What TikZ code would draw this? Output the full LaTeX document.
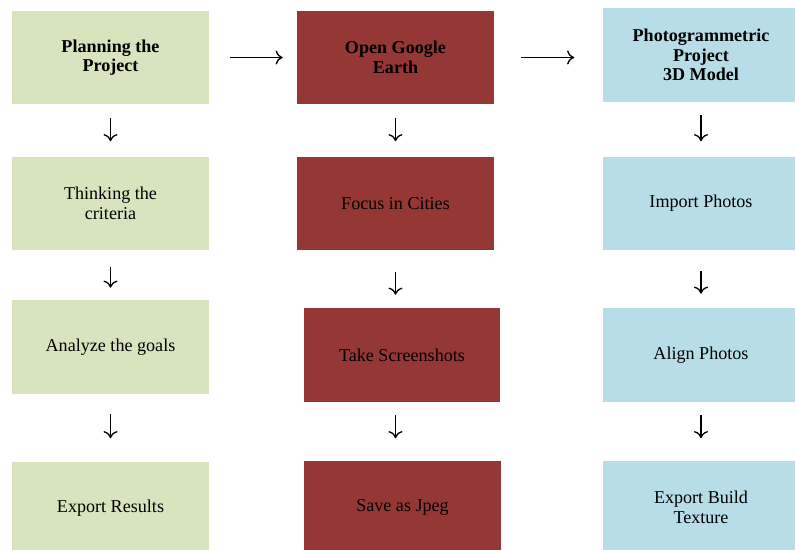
\documentclass[tikz,border=0pt]{standalone}
\usepackage{fontspec}
\setmainfont{Liberation Serif}
\usetikzlibrary{arrows.meta}

\definecolor{planGreen}{HTML}{D7E4BD}
\definecolor{earthRed}{HTML}{953735}
\definecolor{modelBlue}{HTML}{B7DDE8}

\begin{document}
\begin{tikzpicture}[x=0.02cm, y=-0.02cm,
        box/.style={rectangle, minimum width=3.94cm, minimum height=1.88cm, inner sep=0pt, align=center, font=\fontsize{10.3}{11.2}\selectfont},
        title/.style={box, font=\fontsize{10.3}{11.2}\selectfont\bfseries},
        flow/.style={-{To[length=4pt,width=8pt]}, line width=0.75pt}]
    \useasboundingbox (0,0) rectangle (795,550);

    % Draw first column
    \node[title, fill=planGreen] (g1) at (110.5,57.5) {Planning the\\Project};
    \node[box, fill=planGreen] (g2) at (110.5,203.5) {Thinking the\\criteria};
    \node[box, fill=planGreen] (g3) at (110.5,347) {Analyze the goals};
    \node[box, fill=planGreen] (g4) at (110.5,508.5) {Export Results};

    % Draw second column
    \node[title, fill=earthRed] (r1) at (395.5,57.5) {Open Google\\Earth};
    \node[box, fill=earthRed] (r2) at (395.5,203.5) {Focus in Cities};
    \node[box, fill=earthRed] (r3) at (402,355) {Take Screenshots};
    \node[box, fill=earthRed] (r4) at (402.5,507.5) {Save as Jpeg};

    % Draw third column
    \node[title, fill=modelBlue] (b1) at (701,55) {Photogrammetric\\Project\\3D Model};
    \node[box, fill=modelBlue] (b2) at (701,203.5) {Import Photos};
    \node[box, fill=modelBlue] (b3) at (701,355) {Align Photos};
    \node[box, fill=modelBlue] (b4) at (701,507.5) {Export Build\\Texture};

    % Draw arrows between columns
    \draw[flow, shorten <=21*0.02cm, shorten >=14*0.02cm] (g1.east) -- (r1.west);
    \draw[flow, shorten <=27*0.02cm, shorten >=28*0.02cm] (r1.east) -- (r1.east -| b1.west);

    % Draw arrows down the columns
    \foreach \c/\a/\b/\s/\e in {g1/g1/g2/13/15, g1/g2/g3/16/12, g1/g3/g4/20/23,
                                r1/r1/r2/13/15, r1/r2/r3/21/13, r1/r3/r4/13/22,
                                b1/b1/b2/13/15, b1/b2/b3/20/14, b1/b3/b4/13/22} {
        \draw[flow, shorten <=\s*0.02cm, shorten >=\e*0.02cm] (\a.south -| \c.south) -- (\c.south |- \b.north);
    }
\end{tikzpicture}
\end{document}
